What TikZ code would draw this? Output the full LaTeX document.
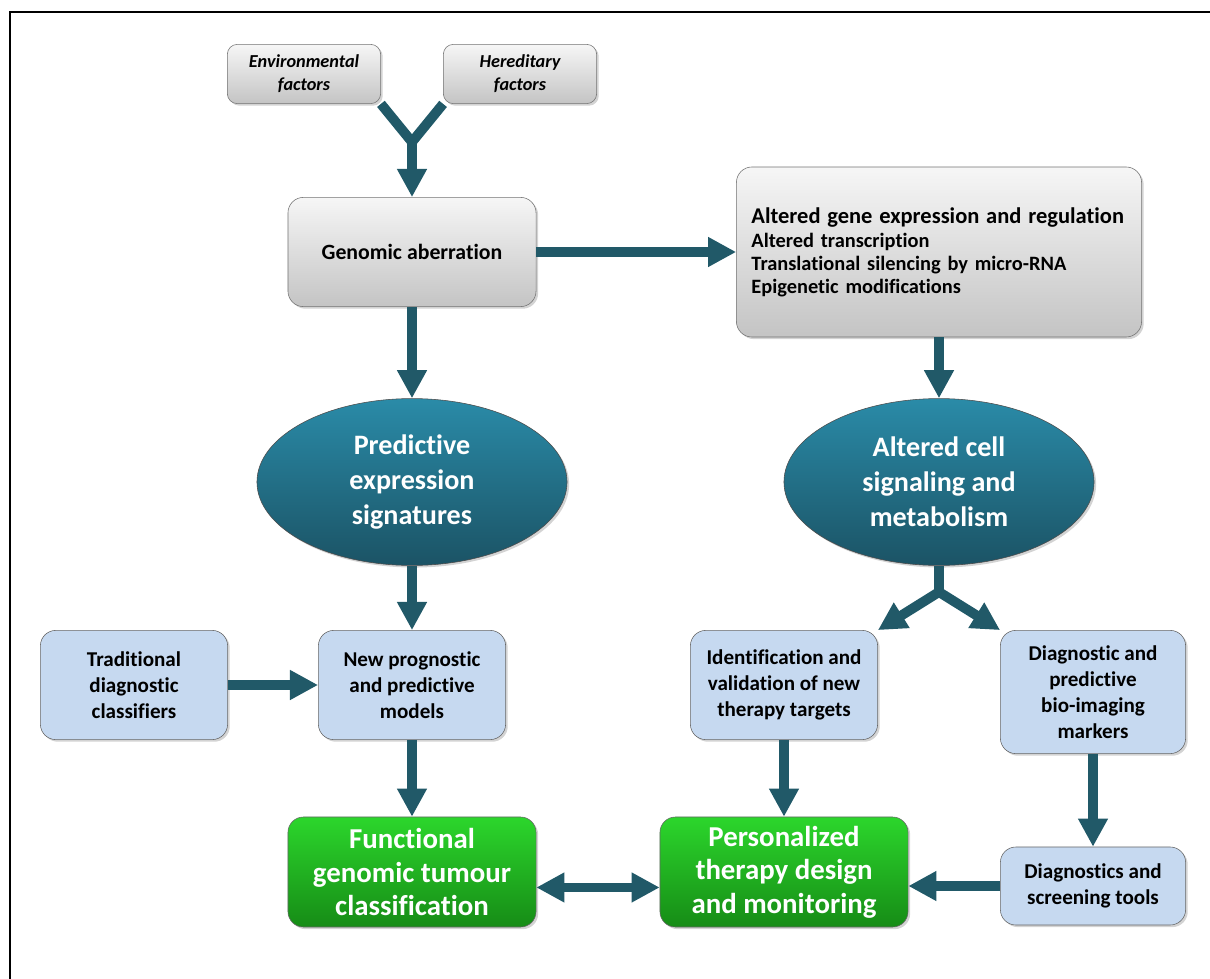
\documentclass[tikz,border=0pt]{standalone}
\usepackage{fontspec}
\setmainfont{Carlito}[Ligatures=NoCommon]
\usetikzlibrary{arrows.meta,shadows,shapes.geometric}
\definecolor{arrowteal}{RGB}{33,89,104}
\definecolor{greytop}{RGB}{246,246,246}
\definecolor{greybot}{RGB}{196,196,196}
\definecolor{paleblue}{RGB}{198,217,240}
\definecolor{tealtop}{RGB}{42,139,168}
\definecolor{tealbot}{RGB}{27,83,101}
\definecolor{greentop}{RGB}{44,214,44}
\definecolor{greenbot}{RGB}{22,140,22}
\begin{document}
\begin{tikzpicture}[x=0.025cm,y=-0.025cm,
    boxshadow/.style={drop shadow={shadow xshift=1.5pt,shadow yshift=-1.5pt,opacity=.35}},
    factorbox/.style={draw=black!55,rounded corners=7pt,top color=greytop,bottom color=greybot,
        minimum width=3.83cm,minimum height=1.48cm,align=center,
        font=\fontsize{13}{16.5}\selectfont\bfseries\itshape,boxshadow},
    greybox/.style={draw=black!55,rounded corners=11pt,top color=greytop,bottom color=greybot,boxshadow},
    bluebox/.style={draw=black!60,rounded corners=11pt,fill=paleblue,minimum width=4.68cm,
        minimum height=2.73cm,align=center,font=\fontsize{15}{18.5}\selectfont\bfseries,boxshadow},
    tealoval/.style={ellipse,draw=black!70,top color=tealtop,bottom color=tealbot,text=white,
        minimum width=7.75cm,minimum height=4.17cm,align=center,
        font=\fontsize{20}{25}\selectfont\bfseries,boxshadow},
    greenbox/.style={draw=black!60,rounded corners=11pt,top color=greentop,bottom color=greenbot,
        text=white,minimum width=6.2cm,minimum height=2.75cm,align=center,
        font=\fontsize{20.5}{23.7}\selectfont\bfseries,boxshadow},
    flowline/.style={draw=arrowteal,line width=7pt},
    flow/.style={flowline,-{Triangle[width=20pt,length=20pt]}},
    biflow/.style={flowline,{Triangle[width=20pt,length=20pt]}-{Triangle[width=20pt,length=20pt]}}]
    \useasboundingbox (0,0) rectangle (1210,979);
    \draw[line width=2pt] (10,979) -- (10,12) -- (1210,12);

    % top row
    \node[factorbox] (envfac) at (304,74) {Environmental\\factors};
    \node[factorbox] (herfac) at (520,74) {Hereditary\\factors};
    \node[greybox,minimum width=6.2cm,minimum height=2.73cm,font=\fontsize{15.5}{18}\selectfont\bfseries]
        (genab) at (412,252) {Genomic aberration};
    \node[greybox,minimum height=4.25cm,text width=9.375cm,inner xsep=0.375cm,align=left,
        font=\fontsize{14.5}{16.2}\selectfont\bfseries] (altexpr) at (939,252)
        {{\fontsize{16}{17}\selectfont Altered gene expression and regulation}\\[1pt]
         Altered transcription\\
         Translational silencing by micro-RNA\\
         Epigenetic modifications};

    % ovals
    \node[tealoval] (predsig) at (412,482) {Predictive\\expression\\signatures};
    \node[tealoval] (altcell) at (939,482) {Altered cell\\signaling and\\metabolism};

    % blue boxes
    \node[bluebox] (tradclass) at (134,685) {Traditional\\diagnostic\\classifiers};
    \node[bluebox] (newmodels) at (412,685) {New prognostic\\and predictive\\models};
    \node[bluebox] (newtargets) at (784,685) {Identification and\\validation of new\\therapy targets};
    \node[bluebox,minimum width=4.63cm,minimum height=3.08cm] (bioimg) at (1093,692)
        {Diagnostic and\\predictive\\bio-imaging\\markers};
    \node[bluebox,minimum width=4.63cm,minimum height=1.95cm] (screentools) at (1093,886)
        {Diagnostics and\\screening tools};

    % green boxes
    \node[greenbox] (funcclass) at (412,872) {Functional\\genomic tumour\\classification};
    \node[greenbox] (persther) at (784,872) {Personalized\\therapy design\\and monitoring};

    % connectors
    \coordinate (merge) at (412,142);
    \coordinate (fork) at (939,592);
    \draw[flowline] (envfac.south east) -- (merge) -- (herfac.south west);
    \draw[flow] (merge) -- (genab);
    \draw[flow] (genab) -- (altexpr);
    \draw[flow] (genab) -- (predsig);
    \draw[flow] (altexpr) -- (altcell);
    \draw[flow] (predsig) -- (newmodels);
    \draw[flow] (tradclass) -- (newmodels);
    \draw[flow] (newmodels) -- (funcclass);
    \draw[flowline] (altcell) -- (fork);
    \draw[flow] (fork) -- (newtargets.north east);
    \draw[flow] (fork) -- (bioimg.north west);
    \draw[flow] (newtargets) -- (persther);
    \draw[flow] (bioimg) -- (screentools);
    \draw[flow] (screentools.west) -- (screentools.west -| persther.east);
    \draw[biflow] ([yshift=-11pt]funcclass.east) -- ([yshift=-11pt]persther.west);
\end{tikzpicture}
\end{document}
